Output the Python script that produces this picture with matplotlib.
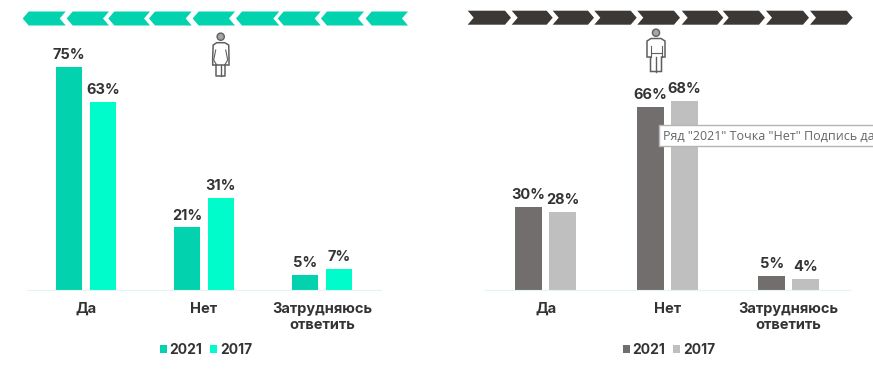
import matplotlib
matplotlib.use('Agg')
import matplotlib.pyplot as plt
from matplotlib.patches import Polygon, Circle, Rectangle

plt.rcParams['font.family'] = ['Inter', 'DejaVu Sans']

W, H = 873, 371

categories = ['Да', 'Нет', 'Затрудняюсь\nответить']
series_names = ['2021', '2017']
women_2021 = [75, 21, 5]
women_2017 = [63, 31, 7]
men_2021 = [30, 66, 5]
men_2017 = [28, 68, 4]

tooltip_text = 'Ряд "2021" Точка "Нет" Подпись да'

text_color = '#333333'


def make_axes(left, right, bottom):
    # pixel box -> figure fractions
    return fig.add_axes([left / W, 1 - bottom / H, (right - left) / W, bottom / H])


def draw_bars(ax, a, b, colors, ymax, bar_w, offset, legend_x):
    xs = range(len(categories))
    bars1 = ax.bar([x - offset for x in xs], a, bar_w, color=colors[0], label=series_names[0])
    bars2 = ax.bar([x + offset for x in xs], b, bar_w, color=colors[1], label=series_names[1])
    for bars in (bars1, bars2):
        ax.bar_label(bars, fmt='%g%%', padding=3.5, fontsize=10.5, fontweight='bold', color=text_color)
    ax.set_xlim(-0.5, 2.5)
    ax.set_ylim(0, ymax)
    ax.set_xticks(list(xs))
    ax.set_xticklabels(categories, fontsize=10.5, fontweight='bold', color=text_color, linespacing=1.2)
    ax.tick_params(axis='x', length=0, pad=8.5)
    ax.set_yticks([])
    for s in ['top', 'left', 'right']:
        ax.spines[s].set_visible(False)
    ax.spines['bottom'].set_color('#e3f5f1')
    ax.patch.set_alpha(0)
    ax.legend(loc='center', bbox_to_anchor=(legend_x / W, 1 - 350 / H), bbox_transform=fig.transFigure,
              ncol=2, frameon=False, handlelength=0.5, handleheight=0.5, handletextpad=0.2,
              columnspacing=0.55, borderpad=0, labelcolor=text_color,
              prop={'size': 10, 'weight': 'bold'})


def chevrons(ax, starts, ends, y0, y1, color, to_left):
    ym = (y0 + y1) / 2
    for s, e in zip(starts, ends):
        if to_left:
            pts = [(s, ym), (s + 6, y0), (e, y0), (e - 6, ym), (e, y1), (s + 6, y1)]
        else:
            pts = [(s, y0), (e - 6, y0), (e, ym), (e - 6, y1), (s, y1), (s + 6, ym)]
        ax.add_patch(Polygon(pts, closed=True, fc=color, ec='none'))


def woman(ax, cx):
    c = '#5f5f5f'
    ax.add_patch(Circle((cx, 36.7), 3.6, fc='#a5a5a5', ec=c, lw=1))
    body = [(cx - 4, 42.7), (cx + 4, 42.7), (cx + 8, 45), (cx + 8.3, 57), (cx + 8.3, 65),
            (cx - 8, 65), (cx - 8, 57), (cx - 7.5, 45)]
    ax.add_patch(Polygon(body, closed=True, fc='white', ec=c, lw=1.1))
    ax.plot([cx - 5, cx - 7, cx - 4], [50, 60, 65], color=c, lw=0.8)
    ax.plot([cx + 5, cx + 7, cx + 4], [50, 60, 65], color=c, lw=0.8)
    ax.plot([cx - 4.5, cx - 4.5, cx + 4.7, cx + 4.7], [65, 76, 76, 65], color=c, lw=1.1)
    ax.plot([cx, cx], [65, 76], color=c, lw=1)


def man(ax, cx):
    c = '#5f5f5f'
    ax.add_patch(Circle((cx, 32.7), 3.6, fc='#a5a5a5', ec=c, lw=1))
    body = [(cx - 5, 38.5), (cx + 5, 38.5), (cx + 9, 41), (cx + 9, 57), (cx + 5.5, 57), (cx + 5.5, 71.5),
            (cx - 5.5, 71.5), (cx - 5.5, 57), (cx - 9, 57), (cx - 9, 41)]
    ax.add_patch(Polygon(body, closed=True, fc='white', ec=c, lw=1.1))
    ax.plot([cx - 5.5, cx - 5.5], [46, 57], color=c, lw=0.8)
    ax.plot([cx + 5.5, cx + 5.5], [46, 57], color=c, lw=0.8)
    ax.plot([cx - 5.5, cx + 5.5], [53, 53], color=c, lw=0.8)
    ax.plot([cx, cx], [57, 71.5], color=c, lw=1)


fig = plt.figure(figsize=(W / 100, H / 100), dpi=100, facecolor='white')

ax_w = make_axes(27, 381, 290)
draw_bars(ax_w, women_2021, women_2017, ['#02d3ae', '#00fccb'], 290 / 2.98, 0.225, 0.143, 206)

ax_m = make_axes(485, 849.5, 290)
draw_bars(ax_m, men_2021, men_2017, ['#736e6e', '#bfbfbf'], 290 / 2.78, 0.222, 0.14, 669)

# overlay in picture pixels for the decorations
over = fig.add_axes([0, 0, 1, 1])
over.set_xlim(0, W)
over.set_ylim(H, 0)
over.axis('off')
over.patch.set_alpha(0)

chevrons(over, [22.7, 66.7, 108.3, 149, 192.7, 236, 277.7, 321, 365.7],
         [65.7, 109, 150, 191.7, 235, 279.3, 320.7, 364, 408], 11.5, 25.5, '#02d3ae', True)
chevrons(over, [467.7, 511.7, 552.7, 594.3, 637.3, 681.7, 722.7, 766, 810],
         [511, 552.7, 594, 636.7, 680, 723.3, 765, 809, 852.7], 10.7, 24.7, '#3b3835', False)

woman(over, 220.7)
man(over, 656)

# tooltip left over from the screenshot
over.add_patch(Rectangle((659, 125), 220, 21, fc='white', ec='#b5b5b5', lw=1, zorder=5))
over.text(663, 136, tooltip_text, fontsize=9.0, family='Open Sans', color='#666666', va='center', ha='left',
          zorder=6, clip_on=True)

fig.savefig('out.png', dpi=100)
